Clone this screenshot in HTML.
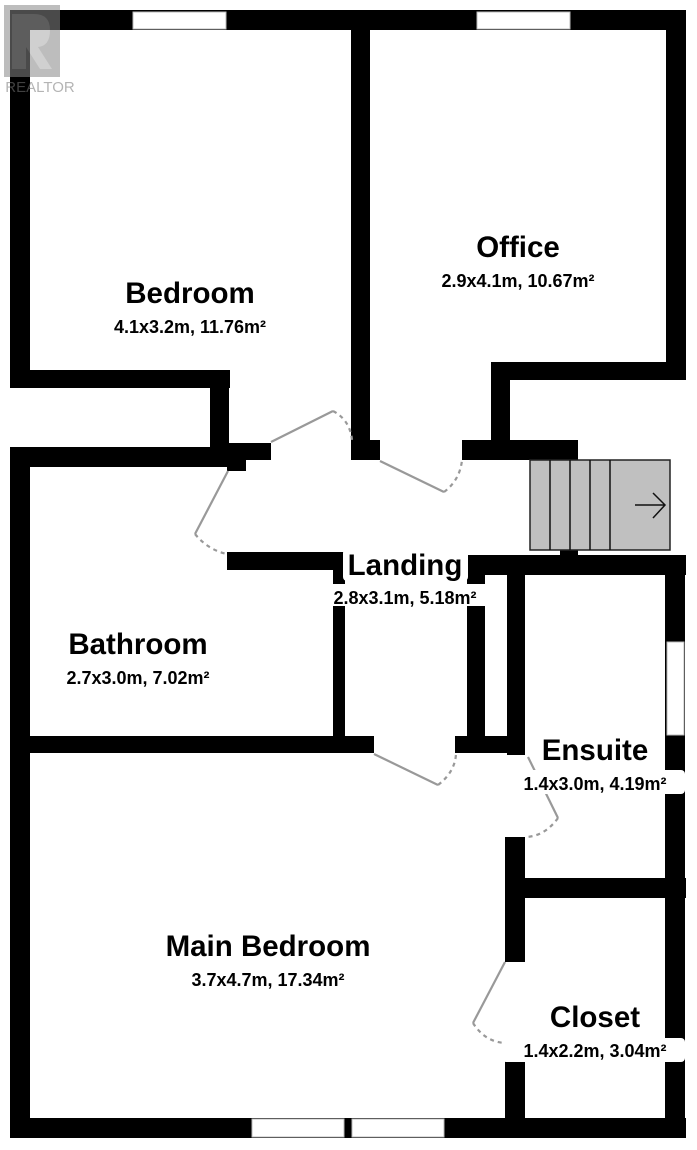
<!DOCTYPE html>
<html><head><meta charset="utf-8"><style>
html,body{margin:0;padding:0;background:#fff;width:697px;height:1150px;overflow:hidden}
svg{display:block}
text{font-family:"Liberation Sans",Arial,sans-serif;fill:#000;text-anchor:middle}
.t{font-weight:bold;font-size:29.5px}
.s{font-size:18px;font-weight:bold}
</style></head><body>
<svg width="697" height="1150" viewBox="0 0 697 1150" xmlns="http://www.w3.org/2000/svg">
<g fill="#000">
<rect x="10" y="10" width="676" height="20"/>
<rect x="10" y="10" width="20" height="378"/>
<rect x="10" y="370" width="220" height="18"/>
<rect x="210" y="370" width="19" height="90"/>
<rect x="210" y="443" width="61" height="17"/>
<rect x="227" y="458" width="19" height="13"/>
<rect x="10" y="447" width="236" height="20"/>
<rect x="10" y="447" width="20" height="691"/>
<rect x="351" y="10" width="19" height="450"/>
<rect x="351" y="440" width="29" height="20"/>
<rect x="666" y="10" width="20" height="370"/>
<rect x="491" y="362" width="195" height="18"/>
<rect x="491" y="362" width="19" height="90"/>
<rect x="462" y="440" width="116" height="20"/>
<rect x="227" y="552" width="118" height="18"/>
<rect x="333" y="552" width="12" height="200"/>
<rect x="467" y="555" width="219" height="20"/>
<rect x="560" y="548" width="18" height="10"/>
<rect x="467" y="555" width="18" height="198"/>
<rect x="507" y="555" width="18" height="200"/>
<rect x="10" y="736" width="364" height="17"/>
<rect x="455" y="736" width="70" height="17"/>
<rect x="665" y="555" width="20" height="583"/>
<rect x="505" y="878" width="181" height="20"/>
<rect x="505" y="837" width="20" height="125"/>
<rect x="505" y="1042" width="20" height="96"/>
<rect x="10" y="1118" width="676" height="20"/>
</g>
<g fill="#fff" stroke="#bbb" stroke-width="1">
<rect x="133" y="12" width="93" height="17"/>
<rect x="477" y="12" width="93" height="17"/>
<rect x="667" y="642" width="17" height="93"/>
<rect x="252" y="1119" width="92" height="18"/>
<rect x="352" y="1119" width="92" height="18"/>
</g>
<rect x="530" y="460" width="140" height="90" fill="#c0c0c0" stroke="#222" stroke-width="1.5"/>
<g stroke="#111" stroke-width="1.5">
<line x1="550" y1="460" x2="550" y2="550"/><line x1="570" y1="460" x2="570" y2="550"/>
<line x1="590" y1="460" x2="590" y2="550"/><line x1="610" y1="460" x2="610" y2="550"/>
<path d="M635 505H665M653 493L665 505L653 518" fill="none"/>
</g>
<g fill="none" stroke="#999" stroke-width="2.2">
<line x1="271" y1="442" x2="333" y2="411"/>
<line x1="228" y1="471" x2="195" y2="534"/>
<line x1="380" y1="461" x2="444" y2="492"/>
<line x1="374" y1="754" x2="438" y2="785"/>
<line x1="528" y1="757" x2="558" y2="818"/>
<line x1="505" y1="962" x2="473" y2="1023"/>
</g>
<g fill="none" stroke="#999" stroke-width="2.2" stroke-dasharray="4 4">
<path d="M333 411Q350 420 352 440"/>
<path d="M195 534Q208 550 227 554"/>
<path d="M444 492Q460 480 462 460"/>
<path d="M438 785Q455 772 456 754"/>
<path d="M558 818Q545 836 526 837"/>
<path d="M473 1023Q485 1042 505 1043"/>
</g>
<rect x="343" y="549" width="125" height="32" fill="#fff" rx="4"/>
<rect x="306" y="584" width="198" height="22" fill="#fff" rx="4"/>
<rect x="502" y="770" width="183" height="24" fill="#fff" rx="4"/>
<rect x="502" y="1038" width="183" height="24" fill="#fff" rx="4"/>
<text class="t" x="190" y="303">Bedroom</text>
<text class="s" x="190" y="333">4.1x3.2m, 11.76m²</text>
<text class="t" x="518" y="257">Office</text>
<text class="s" x="518" y="287">2.9x4.1m, 10.67m²</text>
<text class="t" x="405" y="575">Landing</text>
<text class="s" x="405" y="604">2.8x3.1m, 5.18m²</text>
<text class="t" x="138" y="654">Bathroom</text>
<text class="s" x="138" y="684">2.7x3.0m, 7.02m²</text>
<text class="t" x="595" y="760">Ensuite</text>
<text class="s" x="595" y="790">1.4x3.0m, 4.19m²</text>
<text class="t" x="268" y="956">Main Bedroom</text>
<text class="s" x="268" y="986">3.7x4.7m, 17.34m²</text>
<text class="t" x="595" y="1027">Closet</text>
<text class="s" x="595" y="1057">1.4x2.2m, 3.04m²</text>
<g opacity="0.55">
<rect x="4" y="5" width="56" height="72" fill="#888"/>
<path d="M12 14h22q16 0 16 16t-12 17l14 22h-12l-14-22v22h-14z" fill="#aaa"/>
<text x="40" y="92" style="font-size:15px;fill:#777">REALTOR</text>
</g>
</svg>
</body></html>
